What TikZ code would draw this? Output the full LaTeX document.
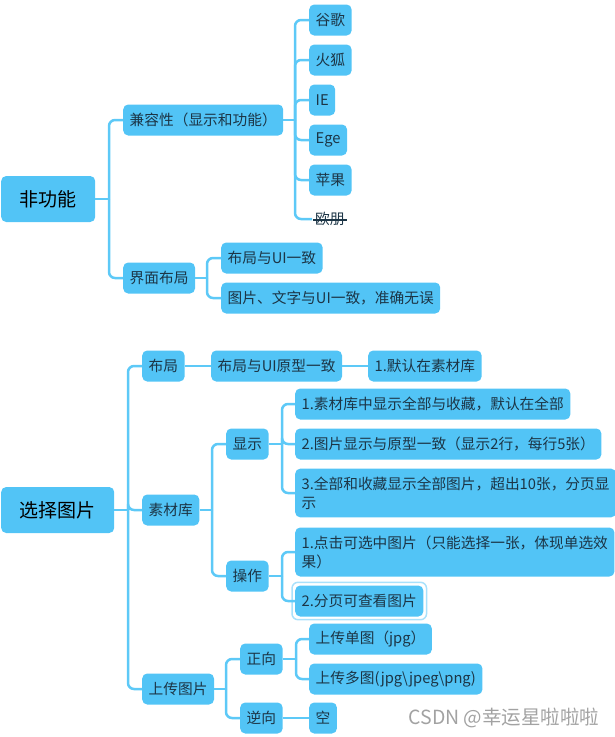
\documentclass[tikz,border=0pt]{standalone}
\usepackage{fontspec}
\setmainfont{Noto Sans CJK SC}

\definecolor{boxblue}{HTML}{52C4F6}
\definecolor{linkblue}{HTML}{5DC9F7}
\definecolor{inktext}{HTML}{1C3546}
\definecolor{selring}{HTML}{A9E1FB}
\definecolor{wmgray}{HTML}{A2A2A2}

\begin{document}
\begin{tikzpicture}[x=1pt, y=-1pt,
    topic/.style={fill=boxblue, text=inktext, rounded corners=5pt, anchor=west,
        inner xsep=6.5pt, inner ysep=0pt, minimum height=31pt,
        font=\fontsize{14.7}{19}\selectfont},
    topictwo/.style={topic, align=left, inner ysep=8pt},
    root/.style={topic, text=black, inner xsep=18.5pt, minimum height=46pt,
        font=\fontsize{19}{23}\selectfont},
    link/.style={draw=linkblue, line width=2.5pt, rounded corners=6pt}]

    \useasboundingbox (0,0) rectangle (614,737);

    % Upper map: non-functional
    \node[root]  (nf)  at (1,199)   {非功能};
    \node[topic] (kr)  at (123,120) {兼容性（显示和功能）};
    \node[topic] (jm)  at (123,278) {界面布局};
    \node[topic] (gg)  at (309,20)  {谷歌};
    \node[topic] (hh)  at (309,60)  {火狐};
    \node[topic] (ie)  at (309,100) {IE};
    \node[topic] (eg)  at (309,140) {Ege};
    \node[topic] (pg)  at (309,180) {苹果};
    \node[topic, fill=none, inner xsep=3pt] (op) at (312,219) {欧朋};
    \node[topic] (bj1) at (221,258) {布局与UI一致};
    \node[topic] (bj2) at (221,298) {图片、文字与UI一致，准确无误};

    % Strike through
    \draw[inktext, line width=1.3pt] ([xshift=1pt,yshift=-1pt]op.west) -- ([xshift=-1pt,yshift=-1pt]op.east);

    % Junctions
    \coordinate (jn) at (109,199);
    \coordinate (jk) at (295,120);
    \coordinate (jj) at (207,278);

    \draw[link] (nf.east) -- (jn);
    \foreach \c in {kr,jm} \draw[link] (jn) |- (\c.west);
    \draw[link] (kr.east) -- (jk);
    \foreach \c in {gg,hh,ie,eg,pg,op} \draw[link] (jk) |- (\c.west);
    \draw[link] (jm.east) -- (jj);
    \foreach \c in {bj1,bj2} \draw[link] (jj) |- (\c.west);

    % Lower map: choose picture
    \node[root]  (xz)   at (1,510)   {选择图片};
    \node[topic] (bl)   at (142,366) {布局};
    \node[topic] (sc)   at (142,510) {素材库};
    \node[topic] (sctp) at (142,689) {上传图片};
    \node[topic] (bl2)  at (211,366) {布局与UI原型一致};
    \node[topic] (mr)   at (368,366) {1.默认在素材库};
    \node[topic] (xs)   at (226,444) {显示};
    \node[topic] (cz)   at (226,576) {操作};
    \node[topic] (x1)   at (295,404) {1.素材库中显示全部与收藏，默认在全部};
    \node[topic] (x2)   at (295,444) {2.图片显示与原型一致（显示2行，每行5张）};
    \node[topictwo] (x3) at (295,493) {3.全部和收藏显示全部图片，超出10张，分页显\\示};
    \node[topictwo] (c1) at (295,552) {1.点击可选中图片（只能选择一张，体现单选效\\果）};
    \node[topic] (c2)   at (295,601) {2.分页可查看图片};
    \node[topic] (zx)   at (240,659) {正向};
    \node[topic] (nx)   at (240,718) {逆向};
    \node[topic] (d1)   at (309,639) {上传单图（jpg）};
    \node[topic] (d2)   at (309,679) {上传多图(jpg\textbackslash jpeg\textbackslash png)};
    \node[topic] (k)    at (309,718) {空};

    % Selected item ring
    \draw[selring, line width=1.5pt, rounded corners=6pt]
        ([shift={(-3pt,-3pt)}]c2.south west) rectangle ([shift={(3pt,3pt)}]c2.north east);

    % Junctions
    \coordinate (jx)  at (128,510);
    \coordinate (js)  at (212,510);
    \coordinate (jxs) at (282,444);
    \coordinate (jcz) at (282,576);
    \coordinate (ju)  at (226,689);
    \coordinate (jzx) at (296,659);

    \draw[link] (xz.east) -- (jx);
    \foreach \c in {bl,sc,sctp} \draw[link] (jx) |- (\c.west);
    \draw[link] (bl.east) -- (bl2.west);
    \draw[link] (bl2.east) -- (mr.west);
    \draw[link] (sc.east) -- (js);
    \foreach \c in {xs,cz} \draw[link] (js) |- (\c.west);
    \draw[link] (xs.east) -- (jxs);
    \foreach \c in {x1,x2,x3} \draw[link] (jxs) |- (\c.west);
    \draw[link] (cz.east) -- (jcz);
    \foreach \c in {c1,c2} \draw[link] (jcz) |- (\c.west);
    \draw[link] (sctp.east) -- (ju);
    \foreach \c in {zx,nx} \draw[link] (ju) |- (\c.west);
    \draw[link] (zx.east) -- (jzx);
    \foreach \c in {d1,d2} \draw[link] (jzx) |- (\c.west);
    \draw[link] (nx.east) -- (k.west);

    % Watermark
    \node[anchor=west, text=wmgray, font=\fontsize{19.5}{23}\selectfont] (wm) at (405,718) {CSDN @幸运星啦啦啦};

\end{tikzpicture}
\end{document}
